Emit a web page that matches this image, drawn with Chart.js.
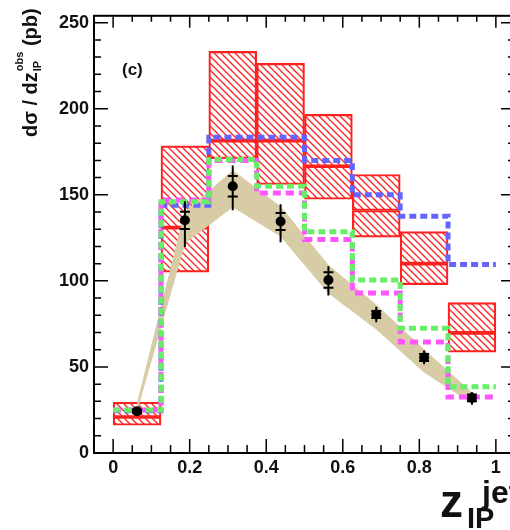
<!DOCTYPE html>
<html>
<head>
<meta charset="utf-8">
<script src="https://cdn.jsdelivr.net/npm/chart.js@4.4.1/dist/chart.umd.min.js"></script>
<style>
  html, body { margin: 0; padding: 0; background: #fff; overflow: hidden; }
  canvas { display: block; }
</style>
</head>
<body>
<canvas id="zChart" width="520" height="530"></canvas>
<script>
// z_IP bins
const binEdges = [0, 0.125, 0.25, 0.375, 0.5, 0.625, 0.75, 0.875, 1.0];

// measured cross section with inner (stat) and total errors
const dataVals = [24.3, 135.2, 155, 134.5, 100.5, 80.5, 55.5, 32];
const statErr = [1, 5, 6, 5, 4.5, 2, 2, 2];
const totUp = [2, 11, 12, 10, 8, 4.5, 4, 3.5];
const totDown = [2, 15.5, 14, 12, 9, 4.5, 4, 4];

// hatched prediction: lower edge, central line, upper edge
const nloLow = [16.1, 105.1, 171, 156, 147.4, 125.4, 97.8, 58.6];
const nloMid = [20.9, 130.9, 181.5, 181.5, 166.6, 140.9, 110, 69.8];
const nloHigh = [29.5, 178.4, 233.3, 226.4, 196.7, 161.8, 128.6, 87.4];

// shaded band at bin centres
const bandHigh = [28, 140, 164, 143, 109, 86, 60, 35];
const bandLow = [25, 122, 143, 126, 93, 72, 47, 29];

// dashed histograms
const blueVals = [24.5, 144, 183.5, 183.5, 170, 150, 137.5, 109.5];
const greenVals = [25, 146, 170.5, 155, 128.5, 100.5, 72.5, 38.5];
const magentaVals = [25, 147, 170, 151, 124, 93, 64.5, 32.5];

// axis labels
const xTicks = [0, 0.2, 0.4, 0.6, 0.8, 1];
const yTicks = [0, 50, 100, 150, 200, 250];

const centres = binEdges.slice(0, -1).map((e, i) => (e + binEdges[i + 1]) / 2);

const RED = '#ff2020';
const FONT = '"Liberation Sans", Arial, Helvetica, sans-serif';

// diagonal hatch fill
function hatch(color) {
  const s = 7;
  const c = document.createElement('canvas');
  c.width = s; c.height = s;
  const g = c.getContext('2d');
  g.strokeStyle = color;
  g.lineWidth = 1.3;
  g.beginPath();
  g.moveTo(0, 0); g.lineTo(s, s);
  g.moveTo(-1, s - 1); g.lineTo(1, s + 1);
  g.moveTo(s - 1, -1); g.lineTo(s + 1, 1);
  g.stroke();
  return g.createPattern(c, 'repeat');
}
const hatchFill = hatch(RED);

function stepPoints(vals) {
  const pts = vals.map((v, i) => ({ x: binEdges[i], y: v }));
  pts.push({ x: binEdges[binEdges.length - 1], y: vals[vals.length - 1] });
  return pts;
}

function stepLine(vals, color, dash, order) {
  return {
    type: 'line',
    data: stepPoints(vals),
    stepped: true,
    borderColor: color,
    borderWidth: 5,
    borderDash: dash,
    borderCapStyle: 'butt',
    pointRadius: 0,
    fill: false,
    order: order
  };
}

function boxSet(lo, hi, order) {
  return {
    type: 'bar',
    data: centres.map((c, i) => ({ x: c, y: [lo[i], hi[i]] })),
    grouped: false,
    barPercentage: 1,
    categoryPercentage: 1,
    backgroundColor: hatchFill,
    borderColor: RED,
    borderWidth: 1.5,
    borderSkipped: false,
    order: order
  };
}

// vertical error bars with small marks at the inner error
const errorBars = {
  id: 'errorBars',
  afterDatasetsDraw(chart) {
    const { ctx, scales: { x, y } } = chart;
    ctx.save();
    ctx.strokeStyle = '#000';
    ctx.lineWidth = 2;
    ctx.beginPath();
    centres.forEach((c, i) => {
      const px = x.getPixelForValue(c);
      ctx.moveTo(px, y.getPixelForValue(dataVals[i] + totUp[i]));
      ctx.lineTo(px, y.getPixelForValue(dataVals[i] - totDown[i]));
      [dataVals[i] + statErr[i], dataVals[i] - statErr[i]].forEach(v => {
        const py = y.getPixelForValue(v);
        ctx.moveTo(px - 5, py);
        ctx.lineTo(px + 5, py);
      });
    });
    ctx.stroke();
    ctx.restore();
  }
};

// box frame with inward ticks, plus the axis titles
const frame = {
  id: 'frame',
  afterDraw(chart) {
    const { ctx, chartArea: a, scales: { x, y } } = chart;
    ctx.save();
    ctx.strokeStyle = '#000';
    ctx.lineWidth = 2;
    ctx.strokeRect(a.left, a.top, a.right - a.left, a.bottom - a.top);

    ctx.lineWidth = 1.5;
    ctx.beginPath();
    for (let k = 0; k <= 20; k++) {
      const px = x.getPixelForValue(k * 0.05);
      const major = k % 4 === 0;
      ctx.moveTo(px, a.bottom); ctx.lineTo(px, a.bottom - (major ? 14 : 8));
      ctx.moveTo(px, a.top); ctx.lineTo(px, a.top + (major ? 12 : 6));
    }
    for (let v = 0; v <= 250; v += 10) {
      const py = y.getPixelForValue(v);
      const major = v % 50 === 0;
      ctx.moveTo(a.left, py); ctx.lineTo(a.left + (major ? 14 : 7), py);
      ctx.moveTo(a.right, py); ctx.lineTo(a.right - (major ? 14 : 7), py);
    }
    ctx.stroke();

    ctx.fillStyle = '#111';
    ctx.textBaseline = 'alphabetic';
    ctx.textAlign = 'left';

    // panel tag
    ctx.font = 'bold 17px ' + FONT;
    ctx.fillText('(c)', 122, 75);

    // x title
    ctx.font = 'bold 46px ' + FONT;
    ctx.fillText('z', 440, 517);
    ctx.font = 'bold 29px ' + FONT;
    ctx.fillText('IP', 467, 528);
    ctx.font = 'bold 32px ' + FONT;
    ctx.fillText('jets', 482, 503);

    // y title, rotated
    ctx.translate(37, 137);
    ctx.rotate(-Math.PI / 2);
    ctx.font = 'bold 20px ' + FONT;
    const main = 'd\u03c3 / dz';
    ctx.fillText(main, 0, 0);
    let xo = ctx.measureText(main).width + 1;
    ctx.font = 'bold 11px ' + FONT;
    ctx.fillText('IP', xo, 4);
    ctx.fillText('obs', xo, -14);
    xo += Math.max(ctx.measureText('IP').width, ctx.measureText('obs').width);
    ctx.font = 'bold 20px ' + FONT;
    ctx.fillText(' (pb)', xo, 0);
    ctx.restore();
  }
};

const ctx = document.getElementById('zChart');

new Chart(ctx, {
  type: 'line',
  data: {
    datasets: [
      {
        type: 'scatter',
        data: centres.map((c, i) => ({ x: c, y: dataVals[i] })),
        pointRadius: 5,
        pointBackgroundColor: '#000',
        pointBorderWidth: 0,
        order: 0
      },
      stepLine(greenVals, '#66ee66', [7, 4], 1),
      stepLine(magentaVals, '#ff55ff', [8, 5], 2),
      stepLine(blueVals, '#6464ff', [7, 4], 3),
      {
        type: 'line',
        data: centres.map((c, i) => ({ x: c, y: bandHigh[i] })),
        borderColor: '#d7cca6',
        borderWidth: 1,
        backgroundColor: '#d7cca6',
        pointRadius: 0,
        fill: '+1',
        order: 4
      },
      {
        type: 'line',
        data: centres.map((c, i) => ({ x: c, y: bandLow[i] })),
        borderColor: '#d7cca6',
        borderWidth: 1,
        pointRadius: 0,
        fill: false,
        order: 5
      },
      boxSet(nloMid, nloHigh, 6),
      boxSet(nloLow, nloMid, 7)
    ]
  },
  options: {
    responsive: false,
    animation: false,
    devicePixelRatio: 1,
    layout: { padding: { top: 12, right: 5, left: 0, bottom: 0 } },
    plugins: {
      legend: { display: false },
      tooltip: { enabled: false }
    },
    scales: {
      x: {
        type: 'linear',
        min: -0.05,
        max: 1.05,
        offset: false,
        grid: { display: false, drawTicks: false },
        border: { display: false },
        afterBuildTicks: s => { s.ticks = xTicks.map(v => ({ value: v })); },
        afterFit: s => { s.height = 77; },
        ticks: {
          autoSkip: false,
          maxRotation: 0,
          padding: 4,
          color: '#111',
          font: { family: FONT, size: 18, weight: 'bold' },
          callback: v => (v === 0 || v === 1) ? String(v) : v.toFixed(1)
        }
      },
      y: {
        type: 'linear',
        min: 0,
        max: 254,
        grid: { display: false, drawTicks: false },
        border: { display: false },
        afterBuildTicks: s => { s.ticks = yTicks.map(v => ({ value: v })); },
        afterFit: s => { s.width = 94; },
        ticks: {
          padding: 5,
          color: '#111',
          font: { family: FONT, size: 18, weight: 'bold' }
        }
      }
    }
  },
  plugins: [errorBars, frame]
});
</script>
</body>
</html>
